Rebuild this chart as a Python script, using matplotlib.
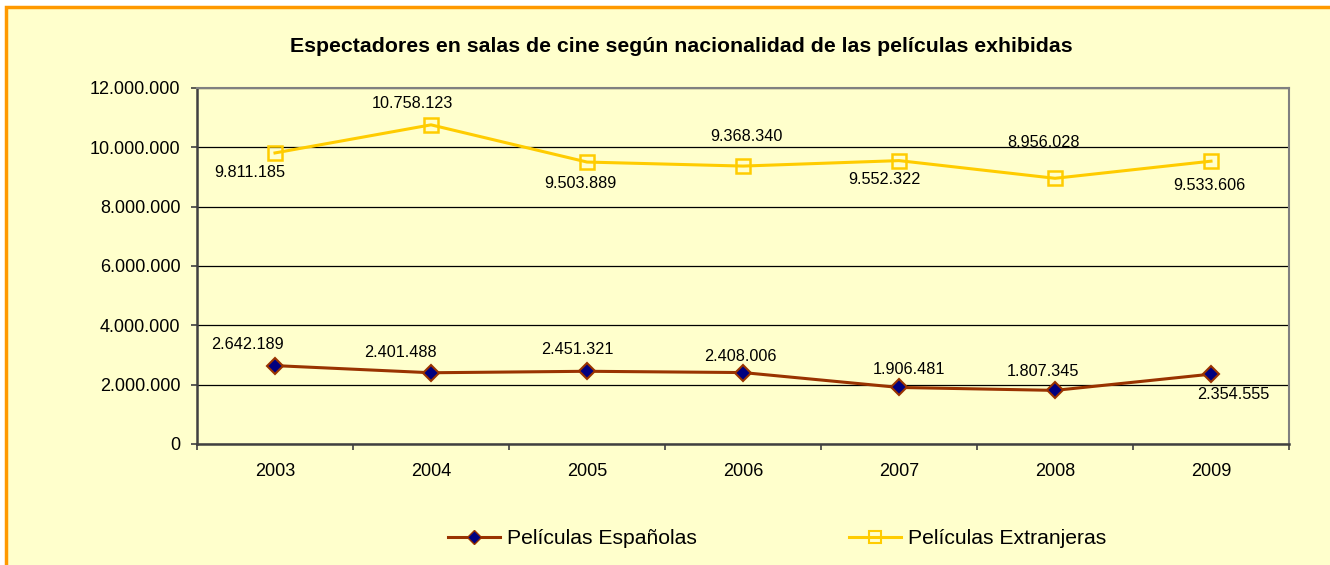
import matplotlib.pyplot as plt
from matplotlib.patches import Rectangle
from matplotlib.ticker import FuncFormatter
from matplotlib.lines import Line2D

plt.rcParams['font.family'] = ['Liberation Sans', 'DejaVu Sans']

years = ['2003', '2004', '2005', '2006', '2007', '2008', '2009']
espanolas = [2642189, 2401488, 2451321, 2408006, 1906481, 1807345, 2354555]
extranjeras = [9811185, 10758123, 9503889, 9368340, 9552322, 8956028, 9533606]

# where each data label sits relative to its point, in pixels (x right, y up)
off_esp = [(-28, 21), (-31, 20), (-10, 22), (-3, 16), (10, 18), (-12, 19), (22, -20)]
off_ext = [(-25, -20), (-19, 21), (-7, -21), (3, 30), (-15, -19), (-12, 36), (-2, -24)]

def miles(v, p=None):
    return f'{int(v):,}'.replace(',', '.')

W, H = 1330, 565
fig = plt.figure(figsize=(W / 100, H / 100), dpi=100)
fig.patch.set_facecolor('white')
# chart area with orange frame (runs past the right/bottom edge)
frame = Rectangle((6 / W, -0.05), 1.1, 1 - 7 / H + 0.05, transform=fig.transFigure,
                  facecolor='#FFFFCC', edgecolor='#FF9900', linewidth=2.5, zorder=-5)
fig.patches.append(frame)

ax = fig.add_axes([197 / W, 1 - 444 / H, (1289 - 197) / W, (444 - 88) / H])
ax.set_facecolor('#FFFFCC')
x = list(range(len(years)))

ax.plot(x, espanolas, color='#993300', lw=2.2, marker='D', ms=8.5,
        markerfacecolor='#000080', markeredgecolor='#993300', markeredgewidth=1.5, zorder=3)
ax.plot(x, extranjeras, color='#FFCC00', lw=2.2, marker='s', ms=10.5,
        markerfacecolor='none', markeredgecolor='#FFCC00', markeredgewidth=1.8, zorder=3)

for xi, v, o in zip(x, espanolas, off_esp):
    ax.annotate(miles(v), (xi, v), xytext=o, textcoords='offset pixels',
                ha='center', va='center', fontsize=11.7)
for xi, v, o in zip(x, extranjeras, off_ext):
    ax.annotate(miles(v), (xi, v), xytext=o, textcoords='offset pixels',
                ha='center', va='center', fontsize=11.7)

ax.set_xlim(-0.5, 6.5)
ax.set_ylim(0, 12000000)
ax.set_yticks(range(0, 12000001, 2000000))
ax.yaxis.set_major_formatter(FuncFormatter(miles))
ax.set_xticks(x)
ax.set_xticklabels(years)
ax.set_xticks([i - 0.5 for i in range(8)], minor=True)
ax.tick_params(axis='x', which='major', length=0, labelsize=13, pad=14)
ax.tick_params(axis='x', which='minor', length=4, width=1.2, color='#404040', direction='out')
ax.tick_params(axis='y', length=4, width=1.2, color='#404040', labelsize=13, pad=8)
ax.grid(axis='y', color='black', lw=0.9)
ax.set_axisbelow(True)
for s in ['top', 'right']:
    ax.spines[s].set_color('#808080')
    ax.spines[s].set_linewidth(1.5)
for s in ['left', 'bottom']:
    ax.spines[s].set_color('#404040')
    ax.spines[s].set_linewidth(1.8)

fig.text(681 / W, 1 - 47 / H, 'Espectadores en salas de cine según nacionalidad de las películas exhibidas',
         ha='center', va='center', fontsize=15.3, fontweight='bold')

handles = [
    Line2D([], [], color='#993300', lw=2.2, marker='D', ms=7, markerfacecolor='#000080',
           markeredgecolor='#993300'),
    Line2D([], [], color='#FFCC00', lw=2.2, marker='s', ms=8.5, markerfacecolor='none',
           markeredgecolor='#FFCC00', markeredgewidth=1.5),
]
fig.legend(handles, ['Películas Españolas', 'Películas Extranjeras'], loc='center',
           bbox_to_anchor=(777 / W, 1 - 539 / H), ncol=2, frameon=False, fontsize=15.2,
           columnspacing=7.2, handlelength=2.45, handletextpad=0.35, borderpad=0)

fig.savefig('out.png', dpi=100)
